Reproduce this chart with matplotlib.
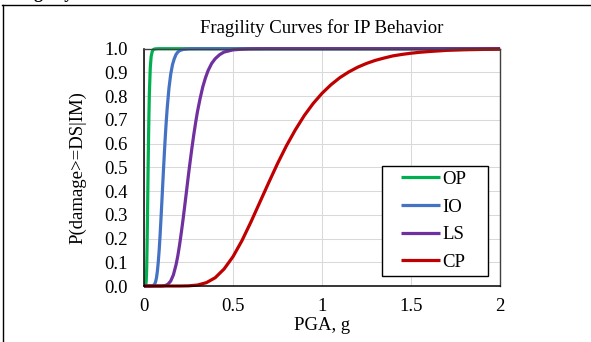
import matplotlib.pyplot as plt
import matplotlib as mpl
from matplotlib.lines import Line2D
from matplotlib.legend_handler import HandlerLine2D

mpl.rcParams['font.family'] = ['Liberation Serif', 'DejaVu Serif']

# values
op_x = [0, 0.005, 0.01, 0.0125, 0.015, 0.0175, 0.02, 0.0225, 0.025, 0.0275, 0.03, 0.035,
        0.04, 0.045, 0.05, 0.06, 0.08, 2.0]
op_y = [0, 0.0, 0.003, 0.025, 0.077, 0.185, 0.321, 0.47, 0.609, 0.72, 0.812, 0.919,
        0.967, 0.985, 0.995, 0.999, 1.0, 1.0]

io_x = [0, 0.04, 0.05, 0.06, 0.065, 0.07, 0.075, 0.08, 0.085, 0.09, 0.095, 0.10, 0.105,
        0.11, 0.115, 0.12, 0.125, 0.13, 0.14, 0.15, 0.16, 0.17, 0.18, 0.19, 0.20, 0.22,
        0.25, 0.3, 2.0]
io_y = [0, 0.0, 0.001, 0.008, 0.018, 0.035, 0.062, 0.101, 0.150, 0.211, 0.280, 0.352, 0.427,
        0.5, 0.570, 0.636, 0.695, 0.748, 0.833, 0.893, 0.933, 0.958, 0.976, 0.986, 0.992,
        0.997, 0.9995, 1.0, 1.0]

ls_x = [0, 0.1, 0.12, 0.135, 0.15, 0.165, 0.18, 0.19, 0.20, 0.21, 0.22, 0.23, 0.24, 0.25,
        0.26, 0.27, 0.28, 0.29, 0.30, 0.315, 0.33, 0.345, 0.36, 0.38, 0.40, 0.425, 0.45,
        0.50, 0.55, 0.60, 0.7, 2.0]
ls_y = [0, 0.0, 0.002, 0.008, 0.021, 0.047, 0.090, 0.128, 0.175, 0.228, 0.285, 0.346, 0.408,
        0.471, 0.530, 0.587, 0.640, 0.689, 0.734, 0.790, 0.839, 0.877, 0.908, 0.938, 0.958,
        0.975, 0.986, 0.995, 0.998, 0.9995, 1.0, 1.0]

cp_x = [0, 0.2, 0.25, 0.3, 0.35, 0.4, 0.45, 0.5, 0.55, 0.6, 0.65, 0.7, 0.75, 0.8, 0.85,
        0.9, 0.95, 1.0, 1.05, 1.1, 1.15, 1.2, 1.25, 1.3, 1.35, 1.4, 1.45, 1.5, 1.55, 1.6,
        1.7, 1.8, 1.9, 2.0]
cp_y = [0, 0.0, 0.0007, 0.004, 0.014, 0.035, 0.072, 0.124, 0.191, 0.269, 0.352, 0.435,
        0.516, 0.591, 0.658, 0.718, 0.769, 0.812, 0.848, 0.878, 0.902, 0.922, 0.938, 0.951,
        0.961, 0.970, 0.976, 0.981, 0.985, 0.988, 0.993, 0.9955, 0.997, 0.998]

series = [('OP', op_x, op_y, '#00B050'),
          ('IO', io_x, io_y, '#4472C4'),
          ('LS', ls_x, ls_y, '#7030A0'),
          ('CP', cp_x, cp_y, '#C00000')]

x_ticks = [0, 0.5, 1, 1.5, 2]
x_ticklabels = ['0', '0.5', '1', '1.5', '2']
y_ticks = [i / 10 for i in range(11)]
y_ticklabels = ['%.1f' % v for v in y_ticks]

fig = plt.figure(figsize=(5.91, 3.42), dpi=100)
ax = fig.add_axes([0.2437, 0.1637, 0.6024, 0.6939])

for name, xs, ys, c in series:
    ax.plot(xs, ys, color=c, lw=2.3, label=name, clip_on=False,
            solid_capstyle='butt', solid_joinstyle='round')

ax.set_xlim(0, 2)
ax.set_ylim(0, 1)
ax.set_xticks(x_ticks)
ax.set_xticklabels(x_ticklabels)
ax.set_yticks(y_ticks)
ax.set_yticklabels(y_ticklabels)
ax.tick_params(length=0, labelsize=13.5)
ax.tick_params(axis='x', pad=8.3)
ax.tick_params(axis='y', pad=11.5)
ax.grid(color='#D9D9D9', lw=0.75)
ax.set_axisbelow(True)

for s in ['left', 'bottom']:
    ax.spines[s].set_color('black')
    ax.spines[s].set_linewidth(1.1)
for s in ['top', 'right']:
    ax.spines[s].set_color('#404040')
    ax.spines[s].set_linewidth(1.0)

ax.set_title('Fragility Curves for IP Behavior', fontsize=13.5, pad=11.3)
ax.set_xlabel('PGA, g', fontsize=13.5)
ax.xaxis.set_label_coords(0.5, -0.129)
ax.set_ylabel('P(damage>=DS|IM)', fontsize=13.5)
ax.yaxis.set_label_coords(-0.163, 0.5)

leg = ax.legend(loc='lower left', bbox_to_anchor=(0.6685, 0.042, 0.2978, 0.5),
                mode='expand', borderaxespad=0, borderpad=0.28, labelspacing=0.56,
                handlelength=2.83, handletextpad=0.1, fontsize=13.5, fancybox=False,
                framealpha=1, edgecolor='black',
                handler_map={Line2D: HandlerLine2D(xpad=0.75)})
leg.get_frame().set_linewidth(1.0)

# page border and the caption cut off above the chart
fig.add_artist(Line2D([0.004, 1.0], [0.984, 0.984], color='black', lw=1.0))
fig.add_artist(Line2D([0.005, 0.005], [0.0, 0.984], color='black', lw=1.0))
fig.text(0.01, 1.0058, 'Fragility Curves for', fontsize=13, fontweight='bold',
         va='baseline', ha='left')

fig.savefig('out.png', dpi=100)
